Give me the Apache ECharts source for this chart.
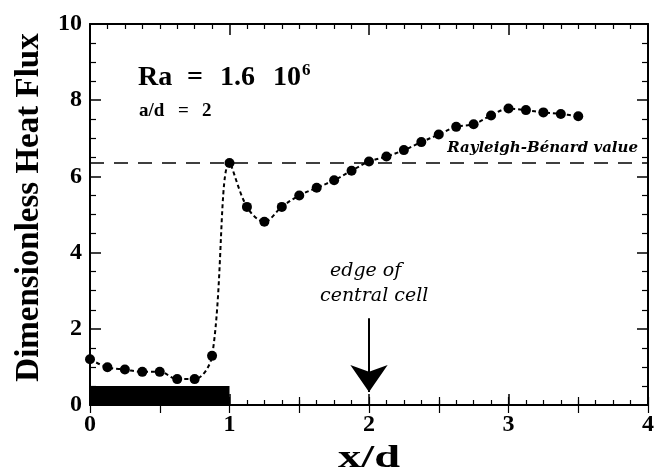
<!DOCTYPE html>
<html><head><meta charset="utf-8">
<script src="https://cdn.jsdelivr.net/npm/echarts@6/dist/echarts.min.js"></script>
<style>html,body{margin:0;padding:0;background:#fff}#c{width:660px;height:476px}</style>
</head><body><div id="c"></div>
<script>
// Data
var xPos = [0, 0.125, 0.25, 0.375, 0.5, 0.625, 0.75, 0.875, 1.0, 1.125, 1.25, 1.375, 1.5, 1.625, 1.75, 1.875, 2.0, 2.125, 2.25, 2.375, 2.5, 2.625, 2.75, 2.875, 3.0, 3.125, 3.25, 3.375, 3.5];
var heatFlux = [1.2, 0.99, 0.93, 0.87, 0.87, 0.68, 0.68, 1.29, 6.35, 5.2, 4.81, 5.2, 5.5, 5.7, 5.9, 6.15, 6.39, 6.52, 6.69, 6.9, 7.1, 7.3, 7.37, 7.6, 7.78, 7.74, 7.68, 7.64, 7.58];
var rayleighBenard = 6.35;
var heaterSpan = [0, 1];
var heaterHeight = 0.5;
var edgeArrow = [2, 2.28, 0.34]; // x, from y, to y
var xTicks = [0, 1, 2, 3, 4];
var yTicks = [0, 2, 4, 6, 8, 10];

var seriesData = xPos.map(function (x, i) { return [x, heatFlux[i]]; });
var rbLine = [[0, rayleighBenard], [4, rayleighBenard]];

var serif = '"Liberation Serif", "Times New Roman", serif';
var chart = echarts.init(document.getElementById('c'));

function axisBase(pos, extra) {
  var o = {
    type: 'value', position: pos, min: 0,
    axisLine: { show: true, onZero: false, lineStyle: { color: '#000', width: 2 } },
    splitLine: { show: false },
    axisTick: { show: true, inside: true, length: 11, lineStyle: { color: '#000', width: 1.5 } },
    minorTick: { show: true, length: 5, lineStyle: { color: '#000', width: 1.2 } },
    axisLabel: { show: false }
  };
  for (var k in extra) o[k] = extra[k];
  return o;
}

var option = {
  animation: false,
  grid: { left: 90, right: 12, top: 24, bottom: 71, containLabel: false, outerBoundsMode: 'none' },
  xAxis: [
    axisBase('bottom', { max: 4, interval: 1, minorTick: { show: true, splitNumber: 8, length: 5, lineStyle: { color: '#000', width: 1.2 } },
      axisLabel: { show: true, color: '#000', fontFamily: serif, fontWeight: 'bold', fontSize: 24, margin: 8,
        formatter: function (v) { return xTicks.indexOf(v) >= 0 ? String(v) : ''; } } }),
    axisBase('bottom', { max: 4, interval: 0.5, axisLine: { show: false }, minorTick: { show: false }, axisTick: { show: true, inside: true, length: 8, lineStyle: { color: '#000', width: 1.2 } } }),
    axisBase('top', { max: 4, interval: 1, minorTick: { show: true, splitNumber: 8, length: 5, lineStyle: { color: '#000', width: 1.2 } } }),
    axisBase('top', { max: 4, interval: 0.5, axisLine: { show: false }, minorTick: { show: false }, axisTick: { show: true, inside: true, length: 8, lineStyle: { color: '#000', width: 1.2 } } })
  ],
  yAxis: [
    axisBase('left', { max: 10, interval: 2, minorTick: { show: true, splitNumber: 4, length: 6, lineStyle: { color: '#000', width: 1.2 } },
      axisLabel: { show: true, color: '#000', fontFamily: serif, fontWeight: 'bold', fontSize: 24, margin: 8,
        formatter: function (v) { return yTicks.indexOf(v) >= 0 ? String(v) : ''; } },
      name: 'Dimensionless Heat Flux', nameLocation: 'middle', nameGap: 44, nameRotate: 90,
      nameTextStyle: { color: '#000', fontFamily: serif, fontWeight: 'bold', fontSize: 33, padding: [0, 0, 0, 14] } }),
    axisBase('right', { max: 10, interval: 2, minorTick: { show: true, splitNumber: 4, length: 6, lineStyle: { color: '#000', width: 1.2 } } })
  ],
  series: [
    {
      type: 'custom', xAxisIndex: 0, yAxisIndex: 0, z: 1,
      data: [[heaterSpan[0], heaterSpan[1], heaterHeight]],
      renderItem: function (params, api) {
        var p0 = api.coord([api.value(0), 0]);
        var p1 = api.coord([api.value(1), api.value(2)]);
        return { type: 'rect', shape: { x: p0[0], y: p1[1], width: p1[0] - p0[0], height: p0[1] - p1[1] }, style: { fill: '#000' } };
      }
    },
    {
      type: 'line', data: rbLine, symbol: 'none', z: 2,
      lineStyle: { color: '#000', width: 1.5, type: [14, 10] }
    },
    {
      type: 'line', data: seriesData, smooth: 0.35, symbol: 'circle', symbolSize: 10, z: 3,
      itemStyle: { color: '#000' },
      lineStyle: { color: '#000', width: 2, type: [4, 3] },
      markLine: {
        silent: true, symbol: ['none', 'arrow'], symbolSize: [28, 27],
        lineStyle: { color: '#000', width: 2, type: 'solid' }, label: { show: false },
        data: [[{ coord: [edgeArrow[0], edgeArrow[1]] }, { coord: [edgeArrow[0], edgeArrow[2]] }]]
      }
    }
  ],
  graphic: [
    { type: 'text', left: 138, top: 64, style: { text: 'Ra', font: 'bold 28px ' + serif, fill: '#000' } },
    { type: 'text', left: 187, top: 64, style: { text: '=', font: 'bold 28px ' + serif, fill: '#000' } },
    { type: 'text', left: 220, top: 64, style: { text: '1.6', font: 'bold 28px ' + serif, fill: '#000' } },
    { type: 'text', left: 273, top: 64, style: { text: '10', font: 'bold 28px ' + serif, fill: '#000' } },
    { type: 'text', left: 302, top: 62, style: { text: '6', font: 'bold 17px ' + serif, fill: '#000' } },
    { type: 'text', left: 139, top: 102, style: { text: 'a/d', font: 'bold 19px ' + serif, fill: '#000' } },
    { type: 'text', left: 178, top: 102, style: { text: '=', font: 'bold 19px ' + serif, fill: '#000' } },
    { type: 'text', left: 202, top: 102, style: { text: '2', font: 'bold 19px ' + serif, fill: '#000' } },
    { type: 'text', right: 22, top: 141, style: { text: 'Rayleigh-Bénard value', font: 'italic bold 15px "DejaVu Serif", serif', fill: '#000' } },
    { type: 'text', left: 330, top: 262, style: { text: 'edge of', font: 'italic 19px "DejaVu Serif", serif', fill: '#000' } },
    { type: 'text', left: 320, top: 287, style: { text: 'central cell', font: 'italic 19px "DejaVu Serif", serif', fill: '#000' } },
    { type: 'text', x: 369, y: 459, scaleX: 1.45, style: { text: 'x/d', font: 'bold 32px ' + serif, fill: '#000', align: 'center', verticalAlign: 'middle' } }
  ]
};
chart.setOption(option);
</script></body></html>
